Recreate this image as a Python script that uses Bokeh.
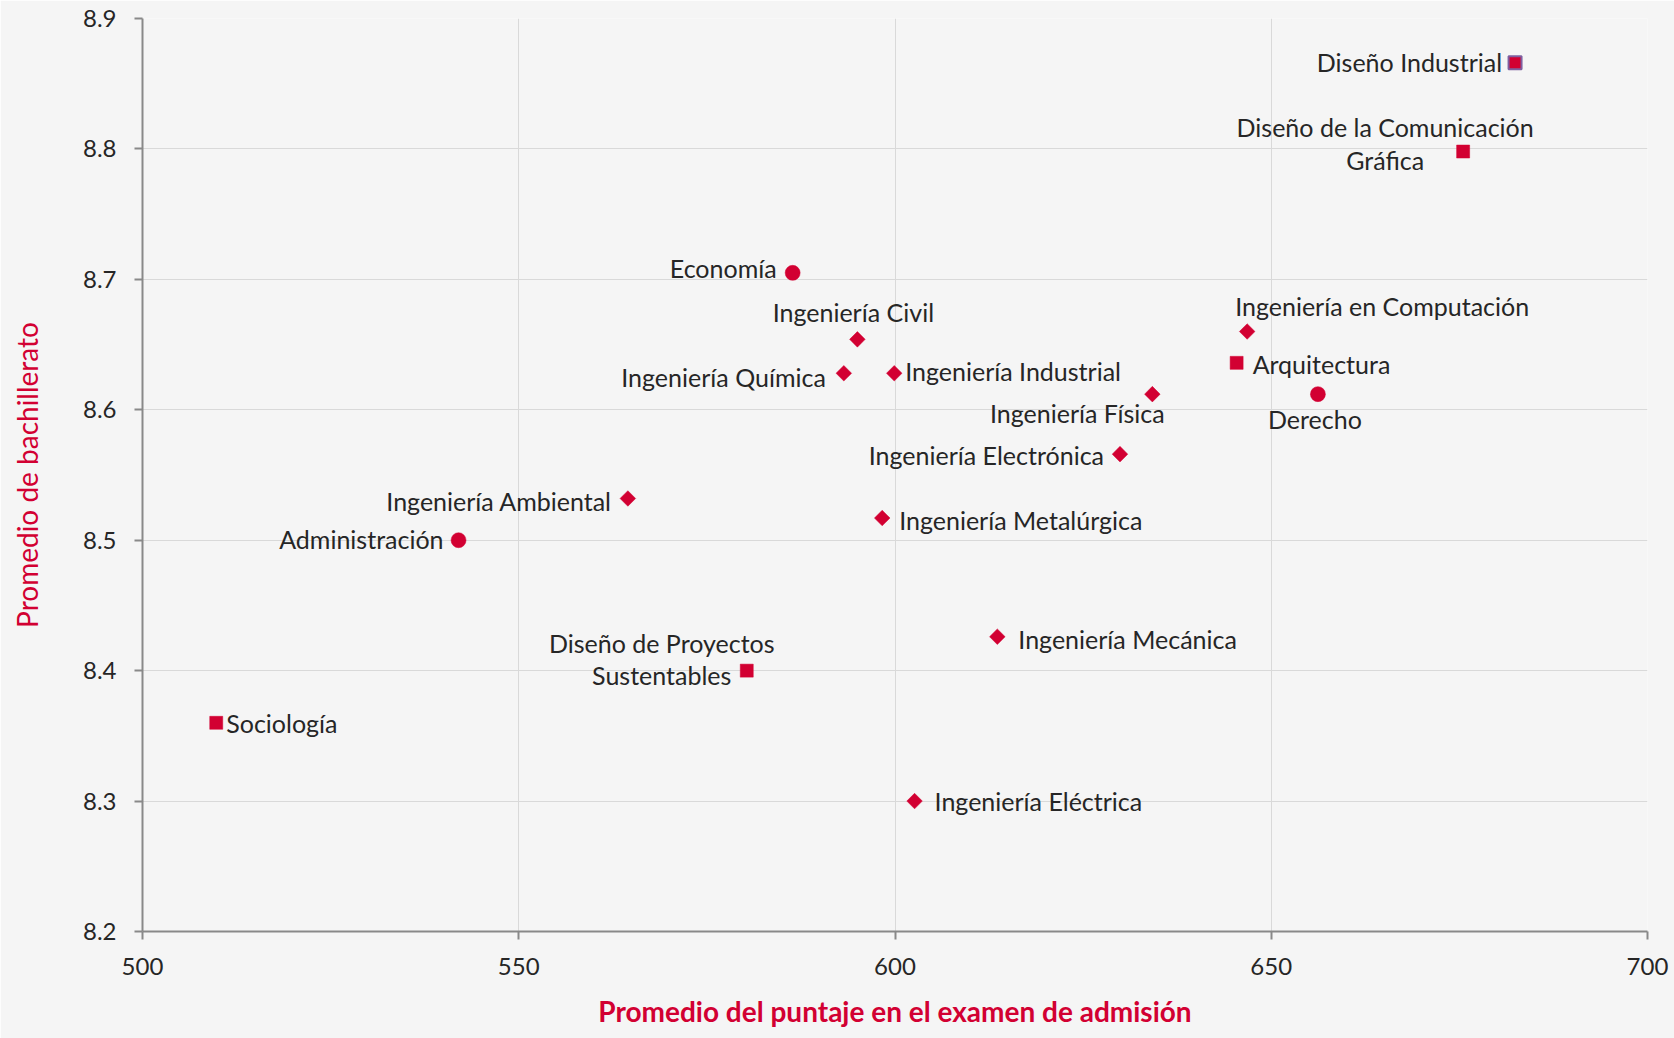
import math
from bokeh.plotting import figure
from bokeh.models import ColumnDataSource, Range1d, FixedTicker
from bokeh.embed import file_html
from bokeh.resources import INLINE
from bokeh.core.properties import value, field

# ---- data ----
carreras = [
    "Diseño Industrial",
    "Diseño de la Comunicación\nGráfica",
    "Economía",
    "Ingeniería Civil",
    "Ingeniería Química",
    "Ingeniería Industrial",
    "Ingeniería Física",
    "Ingeniería en Computación",
    "Arquitectura",
    "Derecho",
    "Ingeniería Electrónica",
    "Ingeniería Ambiental",
    "Administración",
    "Ingeniería Metalúrgica",
    "Ingeniería Mecánica",
    "Diseño de Proyectos\nSustentables",
    "Sociología",
    "Ingeniería Eléctrica",
]
puntaje = [682.4, 675.5, 586.4, 595.0, 593.2, 599.9, 634.2, 646.8, 645.4, 656.2,
           629.9, 564.5, 542.0, 598.3, 613.6, 580.3, 509.8, 602.6]
bachillerato = [8.866, 8.798, 8.705, 8.654, 8.628, 8.628, 8.612, 8.660, 8.636, 8.612,
                8.566, 8.532, 8.500, 8.517, 8.426, 8.400, 8.360, 8.300]
tipo = ["square", "square", "circle", "diamond", "diamond", "diamond", "diamond", "diamond",
        "square", "circle", "diamond", "diamond", "circle", "diamond", "diamond", "square",
        "square", "diamond"]

x_ticks = [500, 550, 600, 650, 700]
y_ticks = [8.2, 8.3, 8.4, 8.5, 8.6, 8.7, 8.8, 8.9]
x_title = "Promedio del puntaje en el examen de admisión"
y_title = "Promedio de bachillerato"

# ---- label layout (screen px: align, dx, dy with dy positive = down) ----
label_layout = {
    "Diseño Industrial": ("right", -13, -1),
    "Diseño de la Comunicación\nGráfica": ("center", -78, -8),
    "Economía": ("right", -16, -5),
    "Ingeniería Civil": ("center", -4, -27),
    "Ingeniería Química": ("right", -18, 4),
    "Ingeniería Industrial": ("left", 11, -2),
    "Ingeniería Física": ("center", -75, 19),
    "Ingeniería en Computación": ("center", 135, -26),
    "Arquitectura": ("left", 16, 1),
    "Derecho": ("center", -3, 25),
    "Ingeniería Electrónica": ("right", -16, 1),
    "Ingeniería Ambiental": ("right", -16, 3),
    "Administración": ("right", -15, -1),
    "Ingeniería Metalúrgica": ("left", 17, 2),
    "Ingeniería Mecánica": ("left", 21, 2),
    "Diseño de Proyectos\nSustentables": ("center", -85, -12),
    "Sociología": ("left", 10, 0),
    "Ingeniería Eléctrica": ("left", 20, 0),
}

RED = "#d20032"
FONT = "Lato"
BG = "#f5f5f5"

p = figure(width=1674, height=1038, output_backend="svg", toolbar_location=None,
           x_range=Range1d(500, 700), y_range=Range1d(8.2, 8.9),
           min_border_left=142, min_border_right=27, min_border_top=18, min_border_bottom=107)
p.background_fill_color = BG
p.border_fill_color = BG
p.outline_line_color = None

for ax in (p.xaxis[0], p.yaxis[0]):
    ax.axis_line_color = "#898989"
    ax.axis_line_width = 2
    ax.major_tick_line_color = "#898989"
    ax.major_tick_line_width = 2
    ax.major_tick_out = 8
    ax.major_tick_in = 0
    ax.minor_tick_line_color = None
    ax.major_label_text_font = FONT
    ax.major_label_text_font_size = "24px"
    ax.major_label_text_color = "#262626"
    ax.axis_label_text_font = FONT
    ax.axis_label_text_font_size = "28px"
    ax.axis_label_text_color = RED

p.xaxis.ticker = FixedTicker(ticks=x_ticks)
p.yaxis.ticker = FixedTicker(ticks=y_ticks)
p.xaxis.major_label_standoff = 18
p.yaxis.major_label_standoff = 18
p.xaxis.axis_label = x_title
p.xaxis.axis_label_text_font_style = "bold"
p.xaxis.axis_label_standoff = 16
p.yaxis.axis_label = y_title
p.yaxis.axis_label_text_font_style = "normal"
p.yaxis.axis_label_standoff = 36

p.xgrid.ticker = FixedTicker(ticks=x_ticks)
p.ygrid.ticker = FixedTicker(ticks=y_ticks)
p.xgrid.grid_line_color = "#d9d9d9"
p.ygrid.grid_line_color = "#d9d9d9"

# markers by type
def subset(kind):
    idx = [i for i, t in enumerate(tipo) if t == kind]
    return ColumnDataSource(dict(
        x=[puntaje[i] for i in idx],
        y=[bachillerato[i] for i in idx],
        name=[carreras[i] for i in idx],
    ))

p.scatter("x", "y", source=subset("circle"), marker="circle", size=15,
          fill_color=RED, line_color=RED, line_width=0.5)
p.scatter("x", "y", source=subset("diamond"), marker="square", size=11, angle=math.pi / 4,
          fill_color=RED, line_color=RED, line_width=0.5)
sq = subset("square")
sq.data["lc"] = ["#7f60a0" if n == "Diseño Industrial" else RED for n in sq.data["name"]]
sq.data["lw"] = [2 if n == "Diseño Industrial" else 0.5 for n in sq.data["name"]]
p.scatter("x", "y", source=sq, marker="square", size=13,
          fill_color=RED, line_color="lc", line_width="lw")

# labels
lab = ColumnDataSource(dict(
    x=puntaje, y=bachillerato, text=carreras,
    align=[label_layout[c][0] for c in carreras],
    dx=[label_layout[c][1] for c in carreras],
    dy=[label_layout[c][2] for c in carreras],
))
p.text("x", "y", text="text", source=lab, x_offset="dx", y_offset="dy",
       text_align=field("align"), text_baseline="middle",
       text_font=value(FONT), text_font_size="25px", text_color="#262626",
       text_line_height=1.07)

open("out.html", "w").write(file_html(p, INLINE))
